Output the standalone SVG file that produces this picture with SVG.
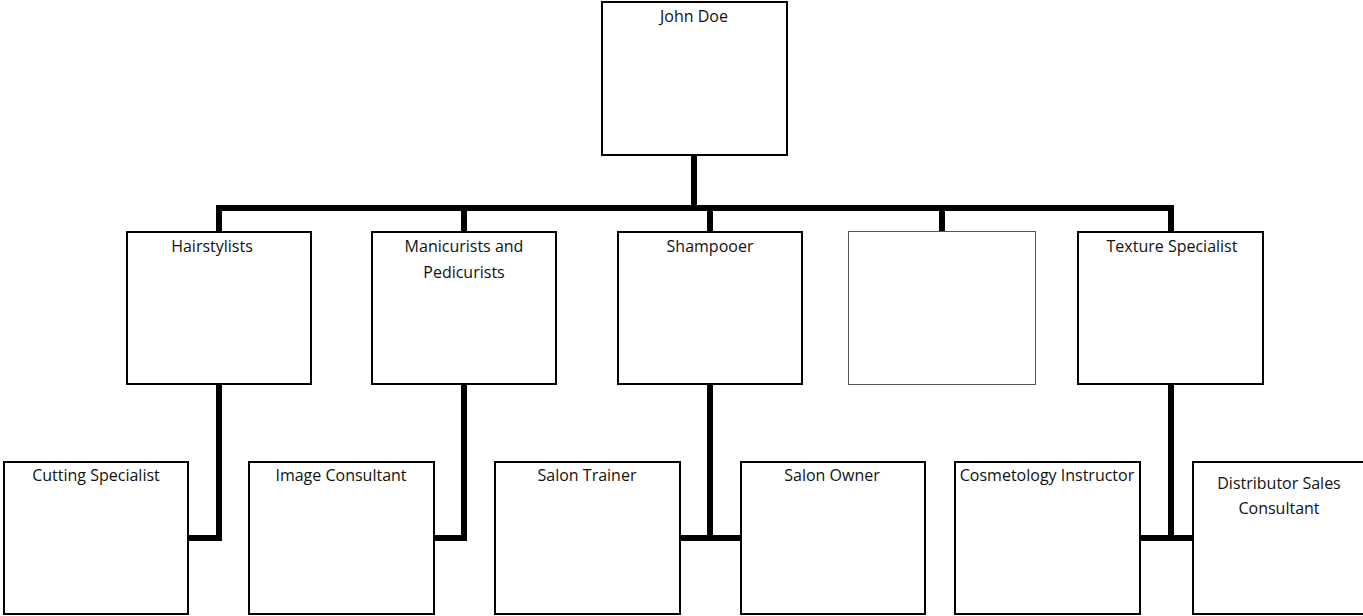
<svg xmlns="http://www.w3.org/2000/svg" width="1363" height="616" viewBox="0 0 1363 616">
<style>
.box{fill:#fff;stroke:#000;stroke-width:2}
.thin{fill:#fff;stroke:#555;stroke-width:1}
.c{fill:none;stroke:#000;stroke-width:6}
text{font-family:"Open Sans","Liberation Sans",sans-serif;font-size:16px;fill:#111;text-anchor:middle}
</style>
<rect width="1363" height="616" fill="#fff"/>
<g id="connectors">
<path class="c" d="M694 155V208M219 232V208H1171V232M464 208V232M710 208V232M942 208V233"/>
<path class="c" d="M219 384V538H188M464 384V538H434M710 384V538M680 538H741M1171 384V538M1140 538H1193"/>
</g>
<g id="john"><rect class="box" x="602" y="2" width="185" height="153"/><text x="694" y="22">John Doe</text></g>
<g id="hair"><rect class="box" x="127" y="232" width="184" height="152"/><text x="212" y="252">Hairstylists</text></g>
<g id="mani"><rect class="box" x="372" y="232" width="184" height="152"/><text x="464" y="252">Manicurists and</text><text x="464" y="278">Pedicurists</text></g>
<g id="shamp"><rect class="box" x="618" y="232" width="184" height="152"/><text x="710" y="252">Shampooer</text></g>
<g id="empty"><rect class="thin" x="848.5" y="231.5" width="187" height="153"/></g>
<g id="texture"><rect class="box" x="1078" y="232" width="185" height="152"/><text x="1172" y="252">Texture Specialist</text></g>
<g id="cutting"><rect class="box" x="4" y="462" width="184" height="152"/><text x="96" y="481">Cutting Specialist</text></g>
<g id="image"><rect class="box" x="249" y="462" width="185" height="152"/><text x="341" y="481">Image Consultant</text></g>
<g id="trainer"><rect class="box" x="495" y="462" width="185" height="152"/><text x="587" y="481">Salon Trainer</text></g>
<g id="owner"><rect class="box" x="741" y="462" width="184" height="152"/><text x="832" y="481">Salon Owner</text></g>
<g id="cosmo"><rect class="box" x="955" y="462" width="185" height="152"/><text x="1047" y="481">Cosmetology Instructor</text></g>
<g id="distrib"><rect class="box" x="1193" y="462" width="185" height="152"/><text x="1279" y="489">Distributor Sales</text><text x="1279" y="514">Consultant</text></g>
</svg>
